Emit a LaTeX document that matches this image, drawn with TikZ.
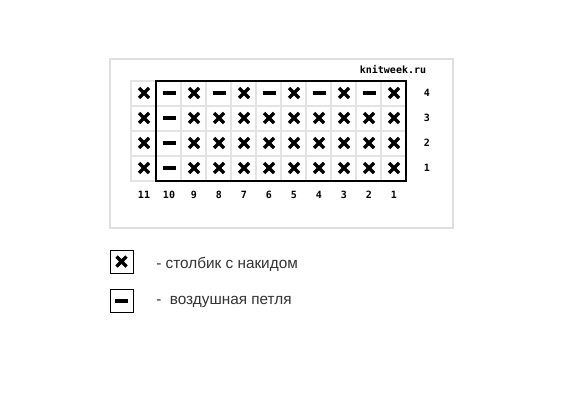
\documentclass[tikz,border=0pt]{standalone}
\usepackage{fontspec}
\setmainfont{Liberation Sans}
\newfontfamily\monofont{DejaVu Sans Mono}

\tikzset{
  cell/.style={draw=gray!22, line width=0.8pt},
  crossline/.style={line width=2.4pt},
  chainline/.style={line width=3pt},
  numlabel/.style={font=\monofont\bfseries\fontsize{7.5}{9}\selectfont, inner sep=0pt},
  legendtext/.style={font=\fontsize{11.5}{13}\selectfont, text=black!80, anchor=west, inner sep=0pt},
}
% cross = double crochet, chain = chain stitch
\newcommand{\crossat}[2]{\draw[crossline] (#1-5,#2-5) -- (#1+5,#2+5) (#1-5,#2+5) -- (#1+5,#2-5);}
\newcommand{\chainat}[2]{\draw[chainline] (#1-6.5,#2) -- (#1+6.5,#2);}

\begin{document}
\begin{tikzpicture}[x=0.75pt,y=-0.75pt]
  \useasboundingbox[fill=white] (0,0) rectangle (580,406);

  %outer frame
  \draw[gray!25, line width=2pt] (110,59) rectangle (453,228);
  \node[numlabel] (site) at (393,70) {knitweek.ru};

  %grid
  \foreach \c in {1,...,11}
    \foreach \r in {1,...,4}
      \draw[cell] (406-25*\c,206-25*\r) rectangle (431-25*\c,181-25*\r);
  %repeat
  \draw[line width=1.6pt] (156,81) rectangle (406,181);

  %stitches, rows 1-3
  \foreach \r in {1,2,3}{
    \foreach \c in {1,...,9,11}{\crossat{419-25*\c}{193-25*\r}}
    \chainat{169}{193-25*\r}
  }
  %stitches, row 4
  \foreach \c in {1,3,...,11}{\crossat{419-25*\c}{93}}
  \foreach \c in {2,4,...,10}{\chainat{419-25*\c}{93}}

  %column numbers
  \foreach \c in {1,...,11}
    \node[numlabel] (col\c) at (419-25*\c,195) {\c};
  %row numbers
  \foreach \r in {1,...,4}
    \node[numlabel] (row\r) at (427,193-25*\r) {\r};

  %legend
  \draw[line width=0.7pt] (110,250) rectangle (133,273);
  \crossat{121.5}{261.5}
  \node[legendtext] (crosstext) at (156,264) {- столбик с накидом};

  \draw[line width=0.7pt] (110,289) rectangle (133,312);
  \chainat{121.5}{300.5}
  \node[legendtext] (chaintext) at (156,302) {-\ \ воздушная петля};
\end{tikzpicture}
\end{document}
